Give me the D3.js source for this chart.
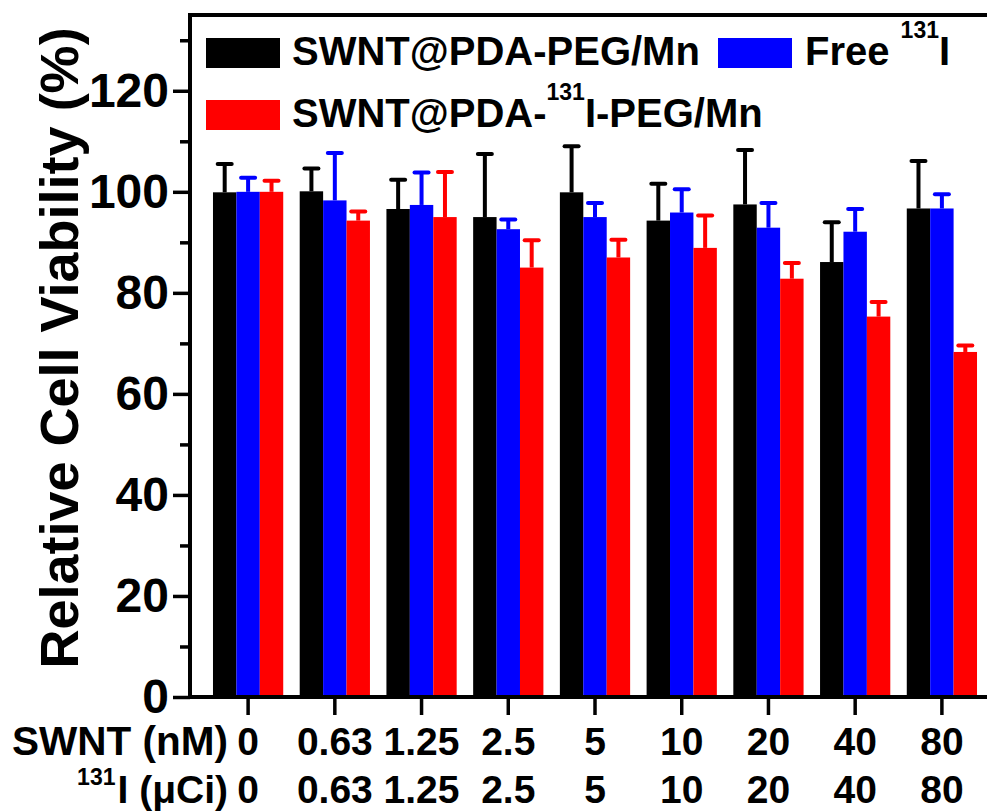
<!DOCTYPE html>
<html>
<head>
<meta charset="utf-8">
<script src="https://cdn.jsdelivr.net/npm/d3@7"></script>
<style>
  body { margin: 0; background: #fff; }
  svg { display: block; overflow: hidden; }
  text { font-family: "Liberation Sans", Arial, Helvetica, sans-serif; font-weight: bold; fill: #000; }
</style>
</head>
<body>
<div id="chart"></div>
<script>
// concentrations (same for SWNT nM and 131I uCi)
var doses = ['0', '0.63', '1.25', '2.5', '5', '10', '20', '40', '80'];

var seriesNames = ['SWNT@PDA-PEG/Mn', 'Free 131I', 'SWNT@PDA-131I-PEG/Mn'];
var seriesColors = ['#000000', '#0000ff', '#ff0000'];

// mean viability (%) and upper error (SD)
var carrierMean = [99.9, 100.1, 96.6, 95.0, 99.9, 94.3, 97.5, 86.1, 96.7];
var carrierErr  = [5.6, 4.5, 5.8, 12.5, 9.1, 7.3, 10.8, 7.9, 9.4];
var freeMean    = [100.0, 98.3, 97.4, 92.6, 95.0, 95.9, 92.9, 92.1, 96.7];
var freeErr     = [2.8, 9.4, 6.4, 1.9, 2.8, 4.6, 4.9, 4.5, 2.8];
var labeledMean = [100.0, 94.3, 95.0, 85.0, 87.0, 88.9, 82.8, 75.3, 68.3];
var labeledErr  = [2.2, 1.8, 8.9, 5.4, 3.5, 6.4, 3.1, 2.9, 1.3];

var yMajor = [0, 20, 40, 60, 80, 100, 120];
var yMinor = [10, 30, 50, 70, 90, 110, 130];

(function() {
  var width = 987, height = 812;
  var plotLeft = 190, plotRight = 1000, plotTop = 15, plotBottom = 697;

  var svg = d3.select('#chart').append('svg')
    .attr('width', width)
    .attr('height', height);

  var x = d3.scaleBand()
    .domain(doses)
    .range([plotLeft, plotRight])
    .paddingInner(0.19)
    .paddingOuter(0.265);

  var xs = d3.scaleBand()
    .domain(d3.range(3))
    .range([0, x.bandwidth()]);

  var y = d3.scaleLinear()
    .domain([0, 135])
    .range([plotBottom, plotTop]);

  var flat = [];
  doses.forEach(function(d, i) {
    flat.push({ dose: d, s: 0, v: carrierMean[i], e: carrierErr[i] });
    flat.push({ dose: d, s: 1, v: freeMean[i], e: freeErr[i] });
    flat.push({ dose: d, s: 2, v: labeledMean[i], e: labeledErr[i] });
  });

  var cx = function(d) { return x(d.dose) + xs(d.s) + xs.bandwidth() / 2; };

  // bars
  svg.append('g').selectAll('rect')
    .data(flat)
    .enter()
    .append('rect')
    .attr('x', function(d) { return x(d.dose) + xs(d.s); })
    .attr('y', function(d) { return y(d.v); })
    .attr('width', xs.bandwidth())
    .attr('height', function(d) { return y(0) - y(d.v); })
    .attr('fill', function(d) { return seriesColors[d.s]; });

  // upper error bars
  var err = svg.append('g').selectAll('g')
    .data(flat)
    .enter()
    .append('g')
    .attr('stroke', function(d) { return seriesColors[d.s]; })
    .attr('stroke-width', 4);

  err.append('line')
    .attr('x1', cx)
    .attr('x2', cx)
    .attr('y1', function(d) { return y(d.v); })
    .attr('y2', function(d) { return y(d.v + d.e); });

  err.append('line')
    .attr('stroke-linecap', 'round')
    .attr('x1', function(d) { return cx(d) - 7; })
    .attr('x2', function(d) { return cx(d) + 7; })
    .attr('y1', function(d) { return y(d.v + d.e); })
    .attr('y2', function(d) { return y(d.v + d.e); });

  // frame
  svg.append('rect')
    .attr('x', plotLeft)
    .attr('y', plotTop)
    .attr('width', plotRight - plotLeft)
    .attr('height', plotBottom - plotTop)
    .attr('fill', 'none')
    .attr('stroke', '#000')
    .attr('stroke-width', 4);

  // y axis
  var yAxis = svg.append('g')
    .attr('transform', 'translate(' + plotLeft + ',0)')
    .call(d3.axisLeft(y).tickValues(yMajor).tickSize(17).tickPadding(4));
  yAxis.select('.domain').remove();
  yAxis.selectAll('line').attr('stroke-width', 3.5);
  yAxis.selectAll('text')
    .attr('font-size', 48)
    .attr('dy', '0.33em');
  yAxis.attr('font-family', null).attr('font-size', null);

  var yMinorAxis = svg.append('g')
    .attr('transform', 'translate(' + plotLeft + ',0)')
    .call(d3.axisLeft(y).tickValues(yMinor).tickSize(10).tickFormat(''));
  yMinorAxis.select('.domain').remove();
  yMinorAxis.selectAll('line').attr('stroke-width', 3.5);

  // x axis ticks
  var xAxis = svg.append('g')
    .attr('transform', 'translate(0,' + plotBottom + ')')
    .call(d3.axisBottom(x).tickSize(18).tickFormat(''));
  xAxis.select('.domain').remove();
  xAxis.selectAll('line').attr('stroke-width', 3.5);

  // two rows of dose labels
  [755, 803].forEach(function(by) {
    svg.append('g').selectAll('text')
      .data(doses)
      .enter()
      .append('text')
      .attr('x', function(d) { return x(d) + x.bandwidth() / 2; })
      .attr('y', by)
      .attr('text-anchor', 'middle')
      .attr('font-size', 39)
      .text(function(d) { return d; });
  });

  svg.append('text')
    .attr('x', 228)
    .attr('y', 755)
    .attr('text-anchor', 'end')
    .attr('font-size', 40.5)
    .text('SWNT (nM)');

  var iodLabel = svg.append('text')
    .attr('x', 228)
    .attr('y', 803)
    .attr('text-anchor', 'end')
    .attr('font-size', 39);
  iodLabel.append('tspan').attr('font-size', 23).attr('dy', -18).text('131');
  iodLabel.append('tspan').attr('dx', 2).attr('dy', 18).text('I (\u03bcCi)');

  // y title
  svg.append('text')
    .attr('transform', 'translate(78,348) rotate(-90)')
    .attr('text-anchor', 'middle')
    .attr('font-size', 54)
    .text('Relative Cell Viability (%)');

  // legend
  var legend = [
    { s: 0, x: 206, y: 38 },
    { s: 1, x: 718, y: 38 },
    { s: 2, x: 206, y: 100 }
  ];
  svg.append('g').selectAll('rect')
    .data(legend)
    .enter()
    .append('rect')
    .attr('x', function(d) { return d.x; })
    .attr('y', function(d) { return d.y; })
    .attr('width', 74)
    .attr('height', 30)
    .attr('fill', function(d) { return seriesColors[d.s]; });

  svg.append('text')
    .attr('x', 292).attr('y', 65)
    .attr('font-size', 40)
    .text(seriesNames[0]);

  var freeText = svg.append('text')
    .attr('x', 805).attr('y', 65)
    .attr('font-size', 40);
  freeText.append('tspan').text('Free ');
  freeText.append('tspan').attr('font-size', 23).attr('dy', -27).text('131');
  freeText.append('tspan').attr('dy', 27).text('I');

  var labText = svg.append('text')
    .attr('x', 292).attr('y', 127)
    .attr('font-size', 40);
  labText.append('tspan').text('SWNT@PDA-');
  labText.append('tspan').attr('font-size', 23).attr('dy', -27).text('131');
  labText.append('tspan').attr('dy', 27).text('I-PEG/Mn');
})();
</script>
</body>
</html>
